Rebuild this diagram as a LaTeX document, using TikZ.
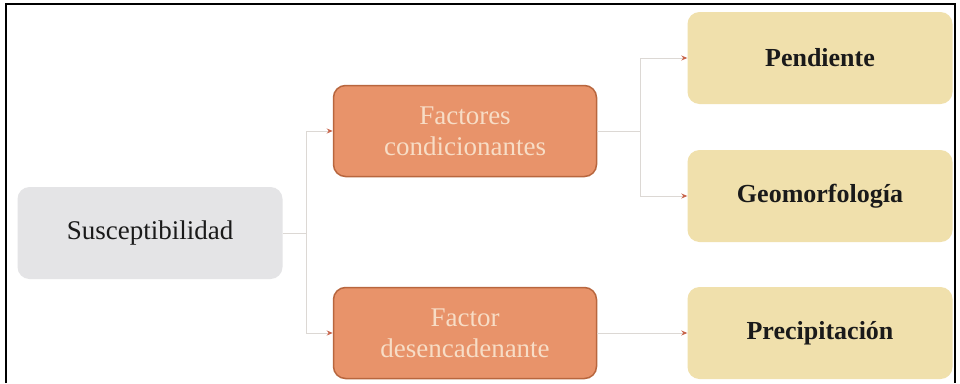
\documentclass[tikz,border=0pt]{standalone}
\usepackage{fontspec}
\setmainfont{Liberation Serif}
\usetikzlibrary{arrows.meta}
\definecolor{greyfill}{HTML}{E4E4E6}
\definecolor{orangefill}{HTML}{E8936A}
\definecolor{orangeedge}{HTML}{B8663E}
\definecolor{orangetext}{HTML}{F7DDC6}
\definecolor{yellowfill}{HTML}{F0E0AC}
\definecolor{linkcol}{HTML}{DCD8D4}
\definecolor{tipcol}{HTML}{C8644A}
\definecolor{textdark}{HTML}{1A1A1A}
\tikzset{
  box/.style={rounded corners=12pt, minimum width=265pt, minimum height=92pt, inner sep=0pt, align=center},
  greybox/.style={box, fill=greyfill, text=textdark, font=\fontsize{27}{31}\selectfont},
  orangebox/.style={box, fill=orangefill, draw=orangeedge, line width=1.5pt, text=orangetext, font=\fontsize{27}{31}\selectfont},
  yellowbox/.style={box, fill=yellowfill, text=textdark, font=\fontsize{26}{30}\selectfont\bfseries},
  link/.style={draw=linkcol, line width=1pt},
  linkarrow/.style={link, -{Stealth[length=6pt,width=5pt,color=tipcol]}},
  frameline/.style={draw=black, line width=2pt}
}
\begin{document}
\begin{tikzpicture}[x=1pt,y=-1pt]
\useasboundingbox (0,0) rectangle (960,383);
\fill[white] (0,0) rectangle (960,383);
% frame
\coordinate (fbl) at (6,383);
\coordinate (ftl) at (6,4);
\coordinate (ftr) at (955,4);
\coordinate (fbr) at (955,383);
\draw[frameline] (fbl) -- (ftl) -- (ftr) -- (fbr);
% nodes
\node[greybox] (sus) at (150,233) {Susceptibilidad};
\node[orangebox, minimum width=263pt, minimum height=91pt] (fc) at (465,131) {Factores\\condicionantes};
\node[orangebox, minimum width=263pt, minimum height=91pt] (fd) at (465,333) {Factor\\desencadenante};
\node[yellowbox] (pen) at (820,58) {Pendiente};
\node[yellowbox] (geo) at (820,196) {Geomorfología};
\node[yellowbox] (pre) at (820,333) {Precipitación};
% connectors
\coordinate (j1) at (306,233);
\coordinate (j2) at (640,131);
\draw[link] (sus.east) -- (j1);
\draw[linkarrow] (j1) |- (fc.west);
\draw[linkarrow] (j1) |- (fd.west);
\draw[link] (fc.east) -- (j2);
\draw[linkarrow] (j2) |- (pen.west);
\draw[linkarrow] (j2) |- (geo.west);
\draw[linkarrow] (fd.east) -- (pre.west);
\end{tikzpicture}
\end{document}
